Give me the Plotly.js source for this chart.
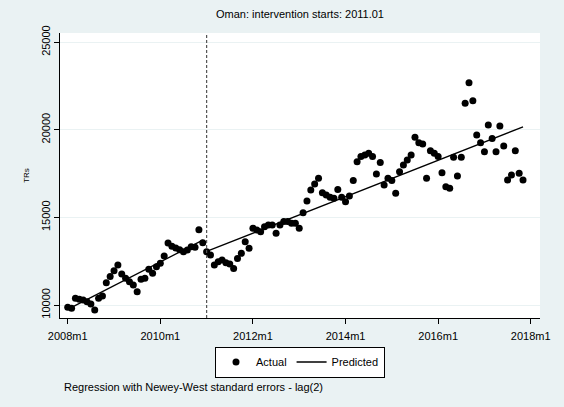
<!DOCTYPE html>
<html>
<head>
<meta charset="utf-8">
<script src="https://cdn.plot.ly/plotly-3.0.1.min.js"></script>
<style>html,body{margin:0;padding:0;background:#eaf2f3;}#chart{width:564px;height:407px;}</style>
</head>
<body>
<div id="chart"></div>
<script>
// Months are indexed from 2008m1 (index 0)
const startLabel = "2008m1";
const tickMonths = [0, 24, 48, 72, 96, 120];
const tickLabels = ["2008m1", "2010m1", "2012m1", "2014m1", "2016m1", "2018m1"];
const interventionMonth = 36; // 2011m1

const actual = [
  9870, 9810, 10380, 10330, 10290, 10190, 10060, 9710, 10380, 10510,
  11270, 11620, 11960, 12280, 11770, 11520, 11330, 11140, 10760, 11470,
  11520, 12040, 11810, 12190, 12380, 12800, 13540, 13350, 13250, 13150,
  13040, 13140, 13330, 13300, 14300, 13560, 13040, 12850, 12280, 12470,
  12570, 12410, 12340, 12090, 12660, 12950, 13610, 13240, 14380, 14280,
  14180, 14470, 14570, 14570, 14090, 14570, 14760, 14760, 14660, 14660,
  14380, 15270, 15940, 16560, 16910, 17230, 16410, 16280, 16150, 16090,
  16600, 16150, 15900, 16220, 17100, 18180, 18470, 18560, 18660, 18470,
  17480, 18130, 16850, 17230, 17100, 16380, 17610, 17990, 18280, 18560,
  19570, 19260, 19190, 17230, 18810, 18660, 18470, 17550, 16750, 16660,
  18430, 17360, 18430, 21510, 22690, 21660, 19700, 19260, 18750, 20270,
  19510, 18750, 20220, 19080, 17140, 17420, 18810, 17520, 17140
];

// Predicted (segmented regression) values at segment ends
const predMonths = [0, 35, null, 36, 118];
const predValues = [9750, 13700, null, 13060, 20170];

const yTicks = [10000, 15000, 20000, 25000];
const yTickLabels = ["10000", "15000", "20000", "25000"];

const months = actual.map((_, i) => i);
const font = "Liberation Sans, Arial, sans-serif";

const traces = [
  {
    x: months, y: actual, type: "scatter", mode: "markers", name: "Actual",
    marker: {color: "#000000", size: 7}
  },
  {
    x: predMonths, y: predValues, type: "scatter", mode: "lines", name: "Predicted",
    line: {color: "#000000", width: 1.3}, connectgaps: false
  }
];

const layout = {
  width: 564, height: 407,
  paper_bgcolor: "#eaf2f3", plot_bgcolor: "#ffffff",
  margin: {l: 60, r: 24, t: 33, b: 89},
  font: {family: font, size: 11, color: "#000"},
  title: {text: "Oman: intervention starts: 2011.01", x: 0.5, xref: "paper", xanchor: "center",
          y: 1, yref: "container", yanchor: "top", pad: {t: 10}, font: {family: font, size: 11, color: "#000"}},
  xaxis: {
    range: [-2, 122.4], tickvals: tickMonths, ticktext: tickLabels,
    showgrid: false, zeroline: false, showline: true, linecolor: "#000", linewidth: 1,
    ticks: "outside", ticklen: 5, tickcolor: "#000", tickfont: {size: 11}, ticklabelstandoff: 3
  },
  yaxis: {
    range: [9258, 25526], tickvals: yTicks, ticktext: yTickLabels, tickangle: -90,
    showgrid: true, gridcolor: "#eaf2f3", gridwidth: 1, zeroline: false,
    showline: true, linecolor: "#000", linewidth: 1,
    ticks: "outside", ticklen: 5, tickcolor: "#000", tickfont: {size: 11},
    title: {text: "TRs", font: {size: 8}, standoff: 8}
  },
  shapes: [{
    type: "line", xref: "x", yref: "paper", x0: interventionMonth, x1: interventionMonth, y0: 0, y1: 1,
    line: {color: "#555555", width: 1.2, dash: "3px,2px"}
  }],
  showlegend: true,
  legend: {
    orientation: "h", x: 0.5, xanchor: "center", y: -0.1, yanchor: "top",
    bgcolor: "#ffffff", bordercolor: "#000000", borderwidth: 1,
    font: {size: 11}, traceorder: "normal"
  },
  annotations: [{
    text: "Regression with Newey-West standard errors - lag(2)",
    xref: "paper", yref: "paper", x: 0.004, y: -0.242, xanchor: "left", yanchor: "middle",
    showarrow: false, font: {size: 11}
  }]
};

Plotly.newPlot("chart", traces, layout, {displayModeBar: false, staticPlot: true});
</script>
</body>
</html>
